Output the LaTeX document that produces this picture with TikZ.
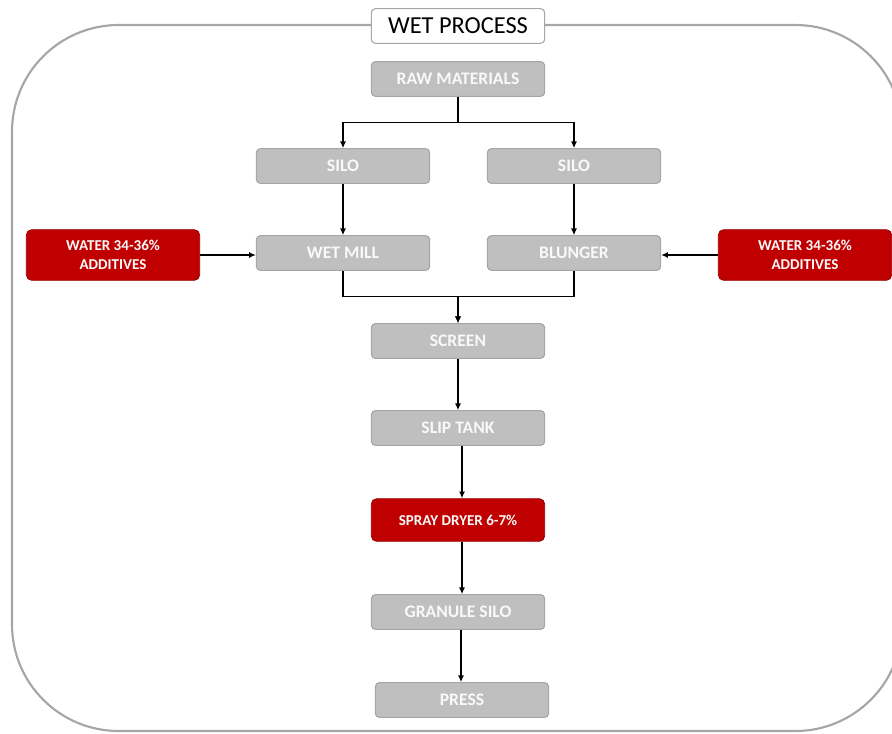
\documentclass[tikz,border=0pt]{standalone}
\usepackage{fontspec}
\setmainfont{Carlito}
\usepackage{xcolor}
\usetikzlibrary{arrows.meta}

\definecolor{boxgray}{HTML}{BFBFBF}
\definecolor{edgegray}{HTML}{A6A6A6}
\definecolor{boxred}{HTML}{C00000}

\begin{document}
\begin{tikzpicture}[x=0.75pt, y=-0.75pt,
		stage/.style={rectangle, rounded corners=3pt, draw=edgegray, fill=boxgray, line width=0.8pt,
			minimum width=130pt, minimum height=26pt, inner sep=0pt,
			text=white!95!gray, font=\bfseries\fontsize{13.2}{15}\selectfont},
		input/.style={rectangle, rounded corners=4pt, draw=boxred!80!black, fill=boxred, line width=0.6pt,
			minimum width=130pt, minimum height=38pt, inner sep=0pt, align=center,
			text=white!95!gray, font=\bfseries\fontsize{11.3}{14}\selectfont},
		flow/.style={-{Latex[length=5pt,width=4.5pt]}, line width=0.9pt}]
		\useasboundingbox (0,0) rectangle (892,733);
		% frame
		\draw[edgegray, line width=1.6pt, rounded corners=80pt] (12,25) rectangle (902,731);
		\node[rectangle, rounded corners=3pt, draw=edgegray, fill=white, line width=0.8pt,
			minimum width=130pt, minimum height=26pt, inner sep=0pt,
			font=\fontsize{18.3}{20}\selectfont] at (458,26) (title){WET PROCESS};

		\node[stage] at (458,79)  (raw){RAW MATERIALS};
		\node[stage] at (343,166) (siloa){SILO};
		\node[stage] at (574,166) (silob){SILO};
		\node[stage] at (343,253) (mill){WET MILL};
		\node[stage] at (574,253) (blunger){BLUNGER};
		\node[input] at (113,255) (watera){WATER 34-36\%\\ADDITIVES};
		\node[input] at (805,255) (waterb){WATER 34-36\%\\ADDITIVES};
		\node[stage] at (458,341) (screen){SCREEN};
		\node[stage] at (458,428) (slip){SLIP TANK};
		\node[input, minimum height=32pt] at (458,520) (dryer){SPRAY DRYER 6-7\%};
		\node[stage] at (458,612) (granule){GRANULE SILO};
		\node[stage] at (462,700) (press){PRESS};

		\draw[flow] (raw.south) -- ++(0,26) -| (siloa.north);
		\draw[flow] (raw.south) -- ++(0,26) -| (silob.north);
		\draw[flow] (siloa) -- (mill);
		\draw[flow] (silob) -- (blunger);
		\draw[flow] (watera) -- (watera -| mill.west);
		\draw[flow] (waterb) -- (waterb -| blunger.east);
		\draw[flow] (mill.south) -- ++(0,26) -| (screen.north);
		\draw[flow] (blunger.south) -- ++(0,26) -| (screen.north);
		\draw[flow] (screen) -- (slip);
		\draw[flow] ([xshift=3pt]slip.south) -- ([xshift=3pt]dryer.north);
		\draw[flow] ([xshift=3pt]dryer.south) -- ([xshift=3pt]granule.north);
		\draw[flow] ([xshift=2.25pt]granule.south) -- ([xshift=-0.75pt]press.north);

	\end{tikzpicture}
\end{document}
